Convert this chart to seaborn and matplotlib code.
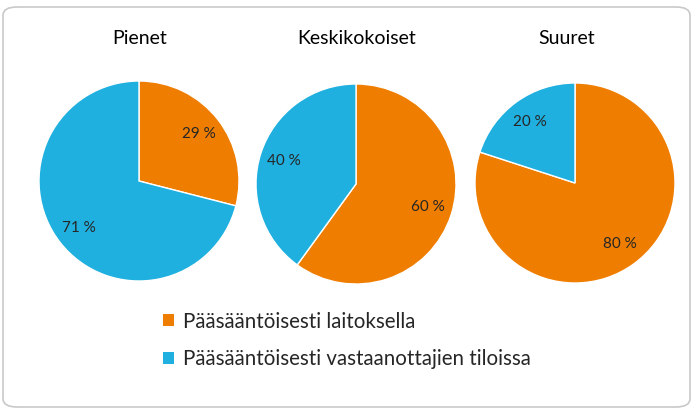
import matplotlib
matplotlib.use("Agg")
import matplotlib.pyplot as plt
import seaborn as sns
from matplotlib.patches import FancyBboxPatch, Patch

groups = ["Pienet", "Keskikokoiset", "Suuret"]
categories = ["Pääsääntöisesti laitoksella", "Pääsääntöisesti vastaanottajien tiloissa"]
laitoksella = [29, 60, 80]
vastaanottajien = [71, 40, 20]

sns.set_theme(style="white")
plt.rcParams['font.family'] = ['Lato', 'DejaVu Sans']

colors = ["#EF7D00", "#1FB0E0"]

W, H = 697, 412
fig = plt.figure(figsize=(W / 100, H / 100), dpi=100)

# rounded border around the whole chart
border = FancyBboxPatch((3 / W, 5 / H), (W - 10) / W, (H - 12) / H,
                        boxstyle="round,pad=0,rounding_size=0.02",
                        transform=fig.transFigure, facecolor="white",
                        edgecolor="#C9C9C9", linewidth=1.2, zorder=-5)
fig.patches.append(border)

# pie centers (px) and radius
centers = [(139, 181), (356, 184), (575, 183)]
title_x = [140, 357, 567]
r = 100
side = 2 * r * 1.25

for i, g in enumerate(groups):
    cx, cy = centers[i]
    ax = fig.add_axes([(cx - side / 2) / W, (H - cy - side / 2) / H, side / W, side / H])
    vals = [laitoksella[i], vastaanottajien[i]]
    wedges, texts, autotexts = ax.pie(
        vals, colors=colors, startangle=90, counterclock=False,
        autopct=lambda p: f"{p:.0f} %", pctdistance=0.76,
        textprops=dict(fontsize=11, color="#262626"))
    fig.text(title_x[i] / W, (H - 38) / H, g, ha="center", va="center",
             fontsize=14, color="black")

handles = [Patch(facecolor=c, edgecolor="none") for c in colors]
fig.legend(handles, categories, loc="upper left",
           bbox_to_anchor=(144 / W, (H - 293) / H), frameon=False,
           fontsize=14.8, handlelength=0.55, handleheight=0.55,
           handletextpad=0.45, labelspacing=0.85)

fig.savefig("out.png", dpi=100)
